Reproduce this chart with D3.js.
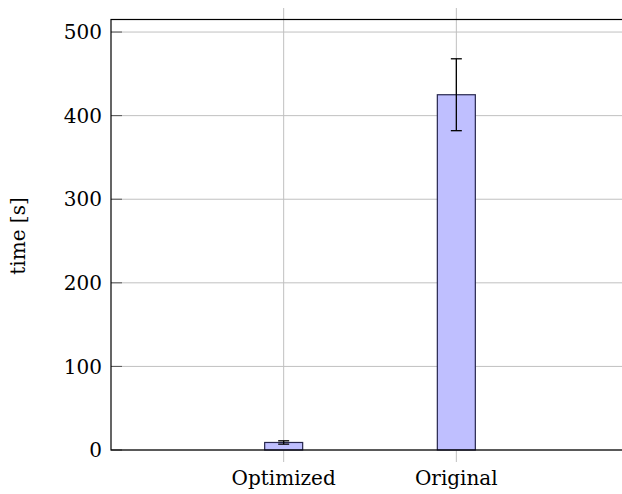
<!DOCTYPE html>
<html>
<head>
<meta charset="utf-8">
<script src="https://cdn.jsdelivr.net/npm/d3@7"></script>
<style>
  body { margin: 0; background: #fff; }
  svg { display: block; }
  text { font-family: "DejaVu Serif", "Liberation Serif", serif; fill: #000; }
</style>
</head>
<body>
<div id="chart"></div>
<script>
// data
var categories = ["Optimized", "Original"];
var times = [9, 425];
var errors = [2, 43];
var yTicks = [0, 100, 200, 300, 400, 500];

var W = 622, H = 494;
var margin = {top: 19.5, right: -7, bottom: 44, left: 111},
  width = W - margin.left - margin.right,
  height = H - margin.top - margin.bottom;

var data = categories.map(function(c, i) {
  return {name: c, value: times[i], err: errors[i]};
});

var svg = d3.select("#chart")
  .append("svg")
  .attr("width", W)
  .attr("height", H)
  .append("g")
  .attr("transform", "translate(" + margin.left + "," + margin.top + ")");

var x = d3.scalePoint()
  .domain(categories)
  .range([0, width])
  .padding(1);

var y = d3.scaleLinear()
  .domain([0, 515])
  .range([height, 0]);

var barW = 38;

// horizontal grid + ticks
svg.append("g")
  .selectAll("line")
  .data(yTicks)
  .enter()
  .append("line")
  .attr("x1", 0)
  .attr("x2", width)
  .attr("y1", function(d) { return y(d); })
  .attr("y2", function(d) { return y(d); })
  .attr("stroke", "#c0c0c0")
  .attr("stroke-width", 1);

svg.append("g")
  .selectAll("line")
  .data(yTicks)
  .enter()
  .append("line")
  .attr("x1", 0)
  .attr("x2", 11)
  .attr("y1", function(d) { return y(d); })
  .attr("y2", function(d) { return y(d); })
  .attr("stroke", "#555");

// vertical grid (sticks out of the frame a bit)
svg.append("g")
  .selectAll("line")
  .data(categories)
  .enter()
  .append("line")
  .attr("x1", function(d) { return x(d); })
  .attr("x2", function(d) { return x(d); })
  .attr("y1", -11.5)
  .attr("y2", height + 12)
  .attr("stroke", "#c0c0c0");

// y tick labels
svg.append("g")
  .selectAll("text")
  .data(yTicks)
  .enter()
  .append("text")
  .attr("x", -9)
  .attr("y", function(d) { return y(d); })
  .attr("dy", "0.36em")
  .attr("text-anchor", "end")
  .style("font-size", "20px")
  .text(function(d) { return d; });

// x tick labels
svg.append("g")
  .selectAll("text")
  .data(categories)
  .enter()
  .append("text")
  .attr("x", function(d) { return x(d); })
  .attr("y", height + 35)
  .attr("text-anchor", "middle")
  .style("font-size", "20px")
  .text(function(d) { return d; });

// bars
svg.selectAll("rect.bar")
  .data(data)
  .enter()
  .append("rect")
  .attr("class", "bar")
  .attr("x", function(d) { return x(d.name) - barW / 2; })
  .attr("width", barW)
  .attr("y", function(d) { return y(d.value); })
  .attr("height", function(d) { return height - y(d.value); })
  .attr("fill", "#bfbfff")
  .attr("stroke", "#26264d")
  .attr("stroke-width", 1.2);

// error bars
var eb = svg.selectAll("g.err")
  .data(data)
  .enter()
  .append("g")
  .attr("class", "err")
  .attr("stroke", "#000")
  .attr("stroke-width", 1.3);

eb.append("line")
  .attr("x1", function(d) { return x(d.name); })
  .attr("x2", function(d) { return x(d.name); })
  .attr("y1", function(d) { return y(d.value + d.err); })
  .attr("y2", function(d) { return y(d.value - d.err); });

eb.selectAll("line.cap")
  .data(function(d) { return [[d.name, d.value + d.err], [d.name, d.value - d.err]]; })
  .enter()
  .append("line")
  .attr("class", "cap")
  .attr("x1", function(d) { return x(d[0]) - 5.5; })
  .attr("x2", function(d) { return x(d[0]) + 5.5; })
  .attr("y1", function(d) { return y(d[1]); })
  .attr("y2", function(d) { return y(d[1]); });

// frame
svg.append("rect")
  .attr("x", 0)
  .attr("y", 0)
  .attr("width", width)
  .attr("height", height)
  .attr("fill", "none")
  .attr("stroke", "#000")
  .attr("stroke-width", 1.2);

// y label
svg.append("text")
  .attr("transform", "translate(" + (-86) + "," + (216.5) + ")rotate(-90)")
  .attr("text-anchor", "middle")
  .style("font-size", "20px")
  .text("time [s]");
</script>
</body>
</html>
